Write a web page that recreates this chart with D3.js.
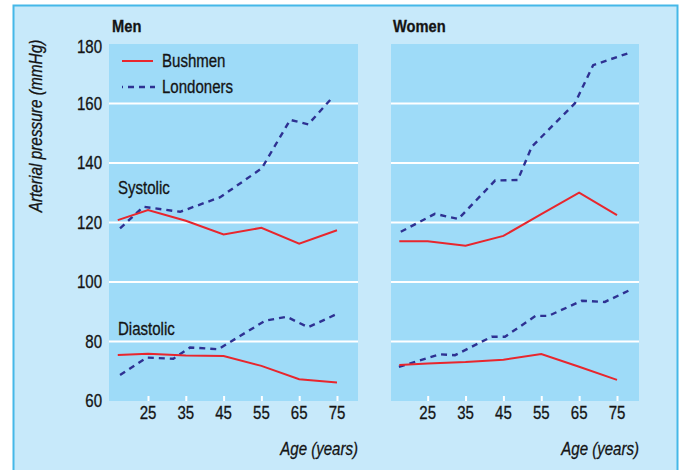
<!DOCTYPE html>
<html><head><meta charset="utf-8">
<script src="https://cdn.jsdelivr.net/npm/d3@7"></script>
<style>
body{margin:0;background:#fff;}
svg text{font-family:"Liberation Sans",Arial,Helvetica,sans-serif;fill:#141414;stroke:#141414;stroke-width:0.3px;}
</style></head>
<body><svg id="c" width="681" height="470"></svg>
<script>
// ---- data ----
const yTicks = [60, 80, 100, 120, 140, 160, 180];
const xTicks = [25, 35, 45, 55, 65, 75];
const gridVals = [80, 100, 120, 140, 160];

const menBushAges = [17, 25, 35, 45, 55, 65, 75];
const menBushSys = [120.8, 124.2, 120.6, 116.0, 118.2, 112.9, 117.4];
const menBushDia = [75.5, 75.9, 75.3, 75.1, 71.8, 67.3, 66.2];
const menLondSysAges = [17.6, 23.8, 33.5, 44.1, 55.1, 62.6, 67.4, 73.2];
const menLondSys = [118.0, 125.3, 123.6, 128.5, 138.2, 154.5, 153.0, 161.2];
const menLondDiaAges = [17.6, 24.7, 31.7, 36.1, 43.6, 56.0, 61.7, 67.4, 74.9];
const menLondDia = [68.7, 74.6, 74.2, 78.0, 77.4, 87.0, 88.3, 84.8, 89.2];

const womenBushAges = [17.5, 25, 35, 45, 55, 65, 75];
const womenBushSys = [113.7, 113.7, 112.2, 115.5, 122.8, 130.0, 122.5];
const womenBushDia = [72.1, 72.6, 73.1, 73.9, 75.8, 71.5, 67.1];
const womenLondSysAges = [17.9, 26.9, 33.1, 42.8, 48.8, 52.5, 63.9, 68.7, 78.0];
const womenLondSys = [116.9, 122.9, 121.2, 134.1, 134.3, 145.5, 160.1, 172.9, 176.9];
const womenLondDiaAges = [17.4, 28.2, 32.2, 41.9, 45.4, 53.5, 56.9, 65.7, 71.8, 78.4];
const womenLondDia = [71.5, 75.7, 75.4, 81.6, 81.6, 88.6, 88.6, 93.7, 93.3, 97.3];

const seriesNames = ["Bushmen", "Londoners"];
const panelTitles = ["Men", "Women"];
const curveLabels = ["Systolic", "Diastolic"];

// ---- style ----
const RED = "#e8262d", NAVY = "#2e3192";
const FS = 17.7, SX = 0.85;
const svg = d3.select("#c");

// condensed text helper (horizontal squeeze of a Helvetica-like face)
function T(parent, x, y, s, o = {}) {
  const t = parent.append("text")
    .attr("transform", `translate(${x},${y})${o.rot ? " rotate(" + o.rot + ")" : ""} scale(${o.sx || SX},1)`)
    .attr("font-size", o.size || FS)
    .attr("text-anchor", o.anchor || "start")
    .text(s);
  if (o.weight) t.attr("font-weight", o.weight);
  if (o.style) t.attr("font-style", o.style);
  if (o.dy) t.attr("dy", o.dy);
  return t;
}

svg.append("rect").attr("x", 13.5).attr("y", 5.5).attr("width", 664).attr("height", 480)
  .attr("fill", "#c7e9fa").attr("stroke", "#45b8e8").attr("stroke-width", 2);

const y = d3.scaleLinear().domain([60, 180]).range([401, 44]);

const panels = [
  { title: panelTitles[0], x: d3.scaleLinear().domain([14.68, 80.56]).range([109, 358]),
    bush: [[menBushAges, menBushSys], [menBushAges, menBushDia]],
    lond: [[menLondSysAges, menLondSys], [menLondDiaAges, menLondDia]] },
  { title: panelTitles[1], x: d3.scaleLinear().domain([15.31, 80.81]).range([391, 639]),
    bush: [[womenBushAges, womenBushSys], [womenBushAges, womenBushDia]],
    lond: [[womenLondSysAges, womenLondSys], [womenLondDiaAges, womenLondDia]] }
];

panels.forEach((p, i) => {
  const g = svg.append("g");
  const [x0, x1] = p.x.range();
  g.append("rect").attr("x", x0).attr("y", y(180)).attr("width", x1 - x0).attr("height", y(60) - y(180))
    .attr("fill", "#9edbf8");
  g.selectAll(".grid").data(gridVals).join("line")
    .attr("x1", x0).attr("x2", x1).attr("y1", d => y(d)).attr("y2", d => y(d))
    .attr("stroke", "#fff").attr("stroke-width", 2);
  // x axis (ticks drawn by d3 axis, labels squeezed)
  const xa = g.append("g").attr("transform", `translate(0,${y(60)})`)
    .call(d3.axisBottom(p.x).tickValues(xTicks).tickSize(-5).tickFormat(""));
  xa.select(".domain").remove();
  xa.selectAll("line").attr("stroke", "#fff").attr("stroke-width", 2);
  xTicks.forEach(d => T(g, p.x(d), 419, d, { anchor: "middle" }));
  // titles
  T(g, x0 + (i === 0 ? 3 : 2), 32, p.title, { weight: "bold", size: 16.5, sx: 0.89 });
  T(g, x1, 455, "Age (years)", { anchor: "end", style: "italic" });

  const line = d3.line().x(d => p.x(d[0])).y(d => y(d[1]));
  p.lond.forEach(([a, v]) => {
    g.append("path").datum(a.map((d, k) => [d, v[k]])).attr("d", line)
      .attr("fill", "none").attr("stroke", NAVY).attr("stroke-width", 2.4)
      .attr("stroke-dasharray", "6,5");
  });
  p.bush.forEach(([a, v]) => {
    g.append("path").datum(a.map((d, k) => [d, v[k]])).attr("d", line)
      .attr("fill", "none").attr("stroke", RED).attr("stroke-width", 2);
  });
});

// y axis labels (left panel)
yTicks.forEach(d => T(svg, 102, y(d) + (d === 180 ? 3 : 0), d, { anchor: "end", dy: "0.36em" }));

T(svg, 42, 126, "Arterial pressure (mmHg)", { anchor: "middle", style: "italic", rot: -90, sx: 0.87 });

T(svg, 118, 194, curveLabels[0]);
T(svg, 118, 335, curveLabels[1]);

// legend
const lg = svg.append("g");
lg.append("line").attr("x1", 122).attr("x2", 153).attr("y1", 61).attr("y2", 61)
  .attr("stroke", RED).attr("stroke-width", 2);
lg.append("line").attr("x1", 122).attr("x2", 155).attr("y1", 87).attr("y2", 87)
  .attr("stroke", NAVY).attr("stroke-width", 2.4).attr("stroke-dasharray", "1,5,6,5,6,5,6");
T(lg, 162, 67, seriesNames[0]);
T(lg, 162, 93, seriesNames[1]);
</script></body></html>
